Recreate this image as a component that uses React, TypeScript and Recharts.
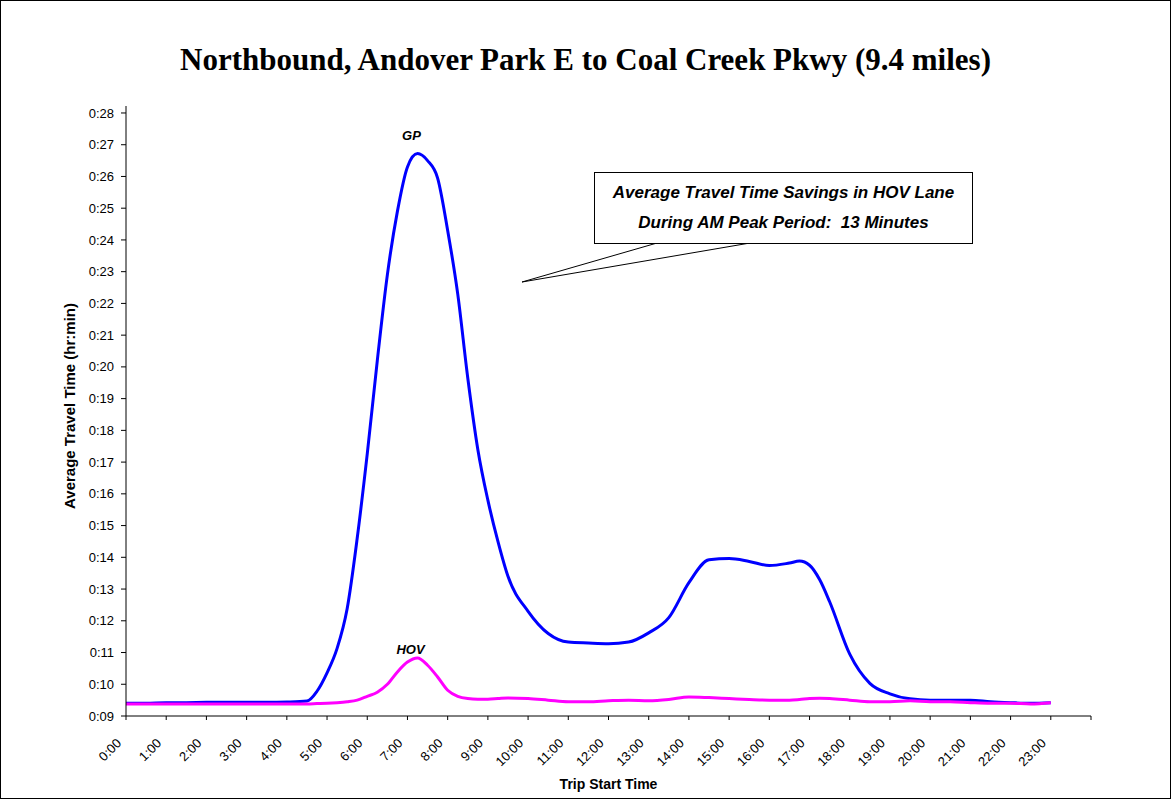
import { LineChart, Line, XAxis, YAxis } from 'recharts';

// trip start time in hours
const times = [
  0, 0.5, 1, 1.5, 2, 2.5, 3, 3.5, 4, 4.5,
  4.75, 5, 5.25, 5.5, 5.75, 6, 6.25, 6.5, 6.75, 7, 7.25, 7.5, 7.75, 8, 8.25, 8.5, 8.75, 9, 9.25, 9.5,
  10, 10.5, 11, 11.5, 12, 12.5, 13, 13.5, 14, 14.5, 15, 15.5, 16, 16.5, 16.75, 17, 17.25, 17.5, 18, 18.5, 19, 19.5,
  20, 20.5, 21, 21.5, 22, 22.5, 23,
];

// average travel time in minutes
const gp = [
  9.4, 9.4, 9.42, 9.42, 9.43, 9.43, 9.43, 9.43, 9.44, 9.47,
  9.78, 10.36, 11.13, 12.38, 14.6, 17.26, 20.2, 22.9, 24.9, 26.3, 26.72, 26.5, 25.95, 24.3, 22.3, 19.65, 17.4, 15.8, 14.5, 13.4,
  12.3, 11.6, 11.33, 11.3, 11.28, 11.33, 11.62, 12.1, 13.2, 13.92, 13.96, 13.87, 13.74, 13.82, 13.88, 13.75, 13.3, 12.6, 10.95, 10.03, 9.7, 9.54,
  9.5, 9.5, 9.5, 9.45, 9.42, 9.4, 9.42,
];

const hov = [
  9.38, 9.38, 9.38, 9.38, 9.38, 9.38, 9.38, 9.38, 9.38, 9.38,
  9.39, 9.4, 9.42, 9.45, 9.5, 9.62, 9.75, 10.0, 10.39, 10.7, 10.83, 10.6, 10.23, 9.81, 9.62, 9.55, 9.53, 9.53, 9.55, 9.57,
  9.55, 9.5, 9.45, 9.45, 9.48, 9.5, 9.48, 9.52, 9.6, 9.58, 9.55, 9.52, 9.5, 9.5, 9.52, 9.55, 9.56, 9.55, 9.5, 9.45, 9.45, 9.48,
  9.45, 9.45, 9.42, 9.4, 9.4, 9.38, 9.42,
];

const xTickLabels = [
  '0:00', '1:00', '2:00', '3:00', '4:00', '5:00', '6:00', '7:00', '8:00', '9:00', '10:00', '11:00',
  '12:00', '13:00', '14:00', '15:00', '16:00', '17:00', '18:00', '19:00', '20:00', '21:00', '22:00', '23:00',
];
const xTicks = [0, 1, 2, 3, 4, 5, 6, 7, 8, 9, 10, 11, 12, 13, 14, 15, 16, 17, 18, 19, 20, 21, 22, 23, 24];
const yTicks = [9, 10, 11, 12, 13, 14, 15, 16, 17, 18, 19, 20, 21, 22, 23, 24, 25, 26, 27, 28];

const title = 'Northbound, Andover Park E to Coal Creek Pkwy (9.4 miles)';
const calloutLines = ['Average Travel Time Savings in HOV Lane', 'During AM Peak Period:  13 Minutes'];

const data = times.map((t, i) => ({ t, gp: gp[i], hov: hov[i] }));

const FONT = '"Liberation Sans", Arial, sans-serif';

const peakIndex = (arr: number[]) => arr.indexOf(Math.max(...arr));

const XTick = ({ x, y, payload }: any) => {
  const label = xTickLabels[payload.value] || '';
  return (
    <g transform={`translate(${x - 4},${y + 22})`}>
      <text x={0} y={0} textAnchor="end" transform="rotate(-45)" fontSize={13} fontFamily={FONT} fill="#000">
        {label}
      </text>
    </g>
  );
};

const seriesLabel = (name: string, idx: number, dx: number, dy: number) => (props: any) => {
  if (props.index !== idx) return null;
  return (
    <text
      key={name}
      x={props.x + dx}
      y={props.y + dy}
      textAnchor="middle"
      fontSize={13}
      fontWeight="bold"
      fontStyle="italic"
      fontFamily={FONT}
      fill="#000"
    >
      {name}
    </text>
  );
};

const YTitle = ({ viewBox }: any) => {
  const cy = viewBox.y + viewBox.height / 2 - 5;
  return (
    <text
      x={75}
      y={cy}
      transform={`rotate(-90, 75, ${cy})`}
      textAnchor="middle"
      fontSize={15}
      fontWeight="bold"
      fontFamily={FONT}
      fill="#000"
    >
      Average Travel Time (hr:min)
    </text>
  );
};

const XTitle = ({ viewBox }: any) => (
  <text
    x={viewBox.x + viewBox.width / 2}
    y={789}
    textAnchor="middle"
    fontSize={14}
    fontWeight="bold"
    fontFamily={FONT}
    fill="#000"
  >
    Trip Start Time
  </text>
);

export default function App() {
  return (
    <div style={{ position: 'absolute', left: 0, top: 0, width: 1171, height: 799, background: '#fff' }}>
      <div
        style={{
          position: 'absolute', left: 0, top: 0, width: 1171, height: 799,
          boxSizing: 'border-box', border: '1px solid #000',
        }}
      />
      <div
        style={{
          position: 'absolute', left: 0, top: 42, width: 1171, textAlign: 'center',
          fontFamily: '"Liberation Serif", "Times New Roman", serif', fontWeight: 'bold', fontSize: 31, lineHeight: '36px',
        }}
      >
        {title}
      </div>

      <div style={{ position: 'absolute', left: 0, top: 0 }}>
        <LineChart width={1171} height={799} data={data} margin={{ top: 106, right: 80, bottom: 23, left: 65 }}>
          <XAxis
            dataKey="t"
            type="number"
            domain={[0, 24]}
            ticks={xTicks}
            interval={0}
            height={60}
            tick={<XTick />}
            tickSize={4}
            tickMargin={2}
            axisLine={{ stroke: '#000' }}
            tickLine={{ stroke: '#000' }}
            label={<XTitle />}
          />
          <XAxis
            xAxisId="top"
            orientation="top"
            dataKey="t"
            type="number"
            domain={[0, 24]}
            height={0}
            tick={false}
            tickLine={false}
            axisLine={{ stroke: '#000' }}
          />
          <YAxis
            type="number"
            domain={[9, 28.22]}
            ticks={yTicks}
            interval={0}
            width={61}
            allowDataOverflow
            tickFormatter={(v: number) => `0:${v < 10 ? '0' + v : v}`}
            tick={{ fontSize: 13, fontFamily: FONT, fill: '#000' }}
            tickSize={5}
            tickMargin={7}
            axisLine={{ stroke: '#000' }}
            tickLine={{ stroke: '#000' }}
            label={<YTitle />}
          />
          <YAxis
            yAxisId="right"
            orientation="right"
            type="number"
            domain={[9, 28.22]}
            width={0}
            tick={false}
            tickLine={false}
            axisLine={{ stroke: '#000' }}
          />
          <Line
            dataKey="gp"
            type="monotone"
            stroke="#0000FF"
            strokeWidth={3}
            dot={false}
            isAnimationActive={false}
            label={seriesLabel('GP', peakIndex(gp), -6, -14)}
          />
          <Line
            dataKey="hov"
            type="monotone"
            stroke="#FF00FF"
            strokeWidth={3}
            dot={false}
            isAnimationActive={false}
            label={seriesLabel('HOV', peakIndex(hov), -7, -4)}
          />
        </LineChart>
      </div>

      <svg style={{ position: 'absolute', left: 0, top: 0 }} width={1171} height={799} pointerEvents="none">
        <polyline points="657,243 522,282 750,243" fill="none" stroke="#000" strokeWidth={1} />
      </svg>
      <div
        style={{
          position: 'absolute', left: 594, top: 172, width: 379, height: 72, boxSizing: 'border-box',
          border: '1px solid #000', background: '#fff', display: 'flex', flexDirection: 'column',
          justifyContent: 'center', alignItems: 'center',
          fontFamily: FONT, fontWeight: 'bold', fontStyle: 'italic', fontSize: 17, lineHeight: '30px',
        }}
      >
        {calloutLines.map((l) => (
          <div key={l} style={{ whiteSpace: 'pre' }}>{l}</div>
        ))}
      </div>
    </div>
  );
}
